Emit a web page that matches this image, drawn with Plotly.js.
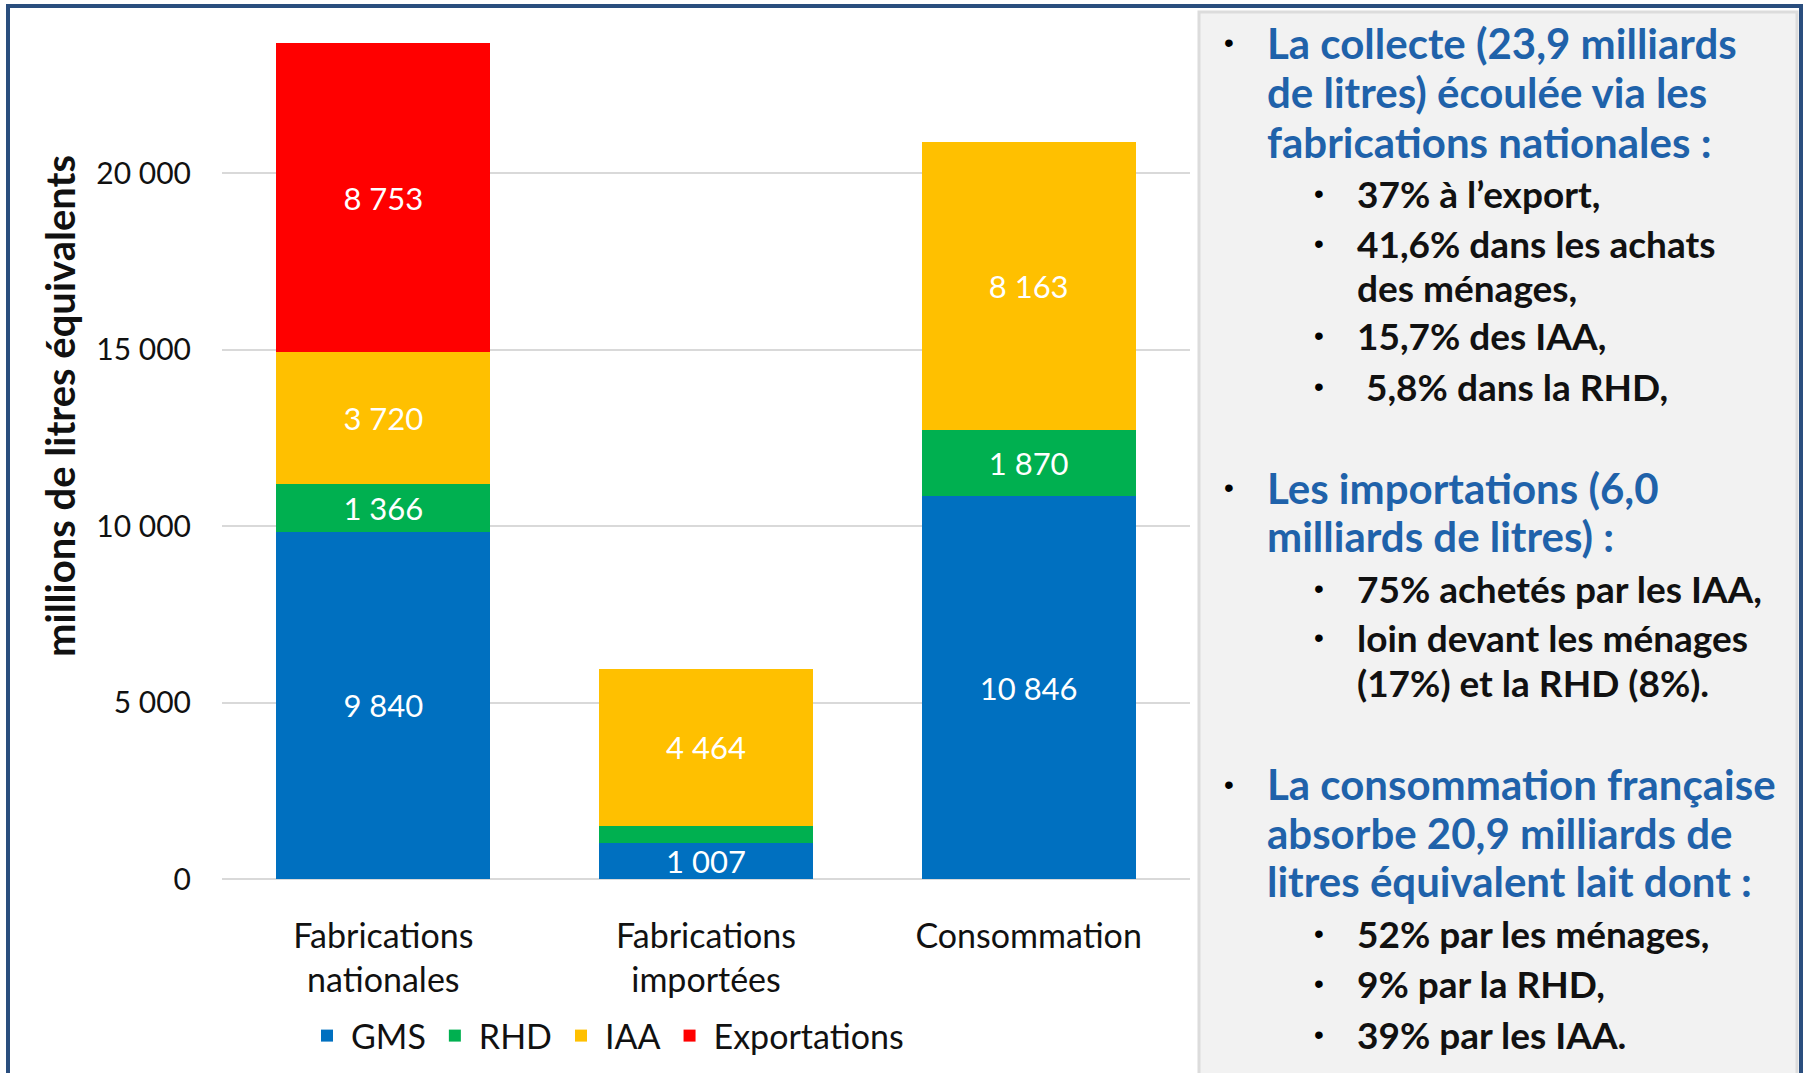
<!DOCTYPE html>
<html>
<head>
<meta charset="utf-8">
<script src="https://cdn.plot.ly/plotly-3.0.1.min.js"></script>
<style>html,body{margin:0;padding:0;background:#fff;}#chart{width:1808px;height:1073px;}</style>
</head>
<body>
<div id="chart"></div>
<script>
// ---- data ----
const categories = ['Fabrications nationales', 'Fabrications importées', 'Consommation'];
const tickLabels = ['Fabrications<br>nationales', 'Fabrications<br>importées', 'Consommation'];
const seriesNames = ['GMS', 'RHD', 'IAA', 'Exportations'];
const gms = [9840, 1007, 10846];
const rhd = [1366, 490, 1870];
const iaa = [3720, 4464, 8163];
const exportations = [8753, null, null];
const rhdLabelShown = [true, false, true];
const yTickValues = [0, 5000, 10000, 15000, 20000];
const yTitle = 'millions de litres équivalents';

const panelBlue1 = ['La collecte (23,9 milliards', 'de litres) écoulée via les', 'fabrications nationales :'];
const panelBlack1 = ['37% à l’export,', '41,6% dans les achats', 'des ménages,', '15,7% des IAA,', '\u00a05,8% dans la RHD,'];
const panelBlack1Bullets = [true, true, false, true, true];
const panelBlue2 = ['Les importations (6,0', 'milliards de litres) :'];
const panelBlack2 = ['75% achetés par les IAA,', 'loin devant les ménages', '(17%) et la RHD (8%).'];
const panelBlack2Bullets = [true, true, false];
const panelBlue3 = ['La consommation française', 'absorbe 20,9 milliards de', 'litres équivalent lait dont :'];
const panelBlack3 = ['52% par les ménages,', '9% par la RHD,', '39% par les IAA.'];
const panelBlack3Bullets = [true, true, true];

// ---- layout geometry ----
const W = 1808, Hh = 1073;
const M = {l: 222, r: 618, t: 32, b: 194};
const PW = W - M.l - M.r, PH = Hh - M.t - M.b;
const px2x = p => (p - M.l) / PW;
const py2y = p => (Hh - M.b - p) / PH;

const FONT = 'Lato, "Open Sans", sans-serif';
const colors = {GMS: '#0070C0', RHD: '#00B050', IAA: '#FFC000', Exportations: '#FF0000'};

function barTrace(name, vals, shown) {
  return {
    type: 'bar', name: name, x: categories, y: vals,
    marker: {color: colors[name], line: {width: 0}},
    texttemplate: vals.map((v, i) => (v == null || (shown && !shown[i])) ? '' : '%{y:,}'),
    textposition: 'inside', insidetextanchor: 'middle', constraintext: 'none',
    textfont: {family: FONT, size: 31, color: '#ffffff'},
    hoverinfo: 'skip', cliponaxis: false
  };
}

const data = [
  barTrace(seriesNames[0], gms),
  barTrace(seriesNames[1], rhd, rhdLabelShown),
  barTrace(seriesNames[2], iaa),
  barTrace(seriesNames[3], exportations)
];

const annotations = [];
annotations.push({
  text: '<b>' + yTitle + '</b>', xref: 'paper', yref: 'paper',
  x: px2x(60), y: py2y(406), textangle: -90, showarrow: false,
  xanchor: 'center', yanchor: 'middle',
  font: {family: FONT, size: 40, color: '#111111'}
});

const BLUE = '#1F62AA';
function addLine(txt, xText, yPix, color, size, bulletX) {
  annotations.push({text: '<b>' + txt + '</b>', xref: 'paper', yref: 'paper',
    x: px2x(xText), y: py2y(yPix), xanchor: 'left', yanchor: 'middle', showarrow: false,
    font: {family: FONT, size: size, color: color}});
  if (bulletX != null) {
    annotations.push({text: '•', xref: 'paper', yref: 'paper',
      x: px2x(bulletX), y: py2y(yPix), xanchor: 'center', yanchor: 'middle', showarrow: false,
      font: {family: 'Arial, sans-serif', size: 28, color: '#000000'}});
  }
}
const blueX = 1265, blackX = 1355, blueBX = 1229, blackBX = 1319;
const BS = 42, KS = 37;
const yBlue1 = [42.7, 92.2, 141.8];
const yBlack1 = [193.7, 243.3, 287.1, 335.5, 386.3];
const yBlue2 = [487.7, 536.1];
const yBlack2 = [588, 637.6, 682.6];
const yBlue3 = [784, 832.5, 880.9];
const yBlack3 = [934, 983.5, 1034.2];
panelBlue1.forEach((t, i) => addLine(t, blueX, yBlue1[i], BLUE, BS, i === 0 ? blueBX : null));
panelBlack1.forEach((t, i) => addLine(t, blackX, yBlack1[i], '#111111', KS, panelBlack1Bullets[i] ? blackBX : null));
panelBlue2.forEach((t, i) => addLine(t, blueX, yBlue2[i], BLUE, BS, i === 0 ? blueBX : null));
panelBlack2.forEach((t, i) => addLine(t, blackX, yBlack2[i], '#111111', KS, panelBlack2Bullets[i] ? blackBX : null));
panelBlue3.forEach((t, i) => addLine(t, blueX, yBlue3[i], BLUE, BS, i === 0 ? blueBX : null));
panelBlack3.forEach((t, i) => addLine(t, blackX, yBlack3[i], '#111111', KS, panelBlack3Bullets[i] ? blackBX : null));

const shapes = [
  {type: 'rect', xref: 'paper', yref: 'paper', layer: 'below',
   x0: px2x(1199), x1: px2x(1797), y0: py2y(1090), y1: py2y(12),
   fillcolor: '#F2F2F2', line: {color: '#DCDCDC', width: 3}},
  {type: 'rect', xref: 'paper', yref: 'paper', layer: 'above',
   x0: px2x(8), x1: px2x(1801), y0: py2y(1100), y1: py2y(6),
   fillcolor: 'rgba(0,0,0,0)', line: {color: '#2A4E7E', width: 4}}
];

const layout = {
  width: W, height: Hh,
  margin: {l: M.l, r: M.r, t: M.t, b: M.b, autoexpand: false},
  paper_bgcolor: '#ffffff', plot_bgcolor: '#ffffff',
  separators: ', ',
  barmode: 'stack', bargap: 0.337,
  showlegend: true,
  legend: {orientation: 'h', x: px2x(303), xanchor: 'left', y: py2y(1036), yanchor: 'middle',
           font: {family: FONT, size: 34, color: '#111111'}, bgcolor: 'rgba(0,0,0,0)',
           itemwidth: 38, traceorder: 'normal', itemclick: false},
  xaxis: {type: 'category', tickvals: categories, ticktext: tickLabels, showgrid: false,
          zeroline: false, showline: false, ticks: '', ticklabelstandoff: 34,
          tickfont: {family: FONT, size: 34, color: '#111111'}, fixedrange: true},
  yaxis: {range: [0, 24000], tickvals: yTickValues, tickformat: ',d', showgrid: true,
          gridcolor: '#D9D9D9', gridwidth: 2, zeroline: true, zerolinecolor: '#D9D9D9', zerolinewidth: 2,
          showline: false, ticks: '', ticklabelstandoff: 30,
          tickfont: {family: FONT, size: 30, color: '#111111'}, fixedrange: true},
  annotations: annotations,
  shapes: shapes
};

Plotly.newPlot('chart', data, layout, {displayModeBar: false, staticPlot: true});
</script>
</body>
</html>
